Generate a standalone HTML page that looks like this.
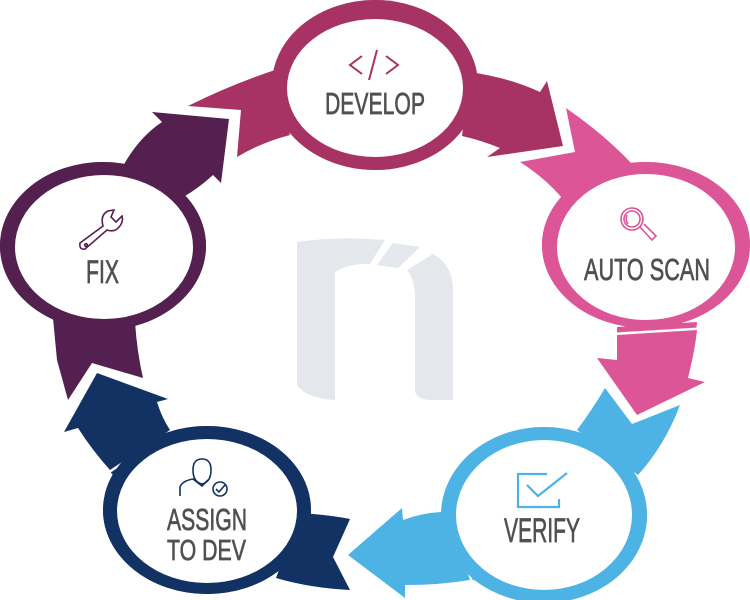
<!DOCTYPE html>
<html><head><meta charset="utf-8"><style>
html,body{margin:0;padding:0;background:#fff;width:750px;height:600px;overflow:hidden}
svg{display:block}
text{font-family:"Liberation Sans",sans-serif;fill:#505050;stroke:#505050;stroke-width:0.7}
.ah{stroke:#fff;stroke-width:5;paint-order:stroke;stroke-linejoin:miter}
</style></head><body>
<svg width="750" height="600" viewBox="0 0 750 600" xmlns="http://www.w3.org/2000/svg">
<!-- logo -->
<g fill="#e4e7ec">
<path d="M297,242 Q340,236 385,240 L370,264 Q350,263 335,272 L335,400 Q305,398 297,385 Z"/>
<path d="M393,243 L420,247 L398,268 L377,265 Z"/>
<path d="M407,270 L433,254 Q453,265 453,290 L453,400 L428,400 Q415,398 415,390 L415,292 Q413,276 407,270 Z"/>
</g>

<!-- tails + ellipses -->
<path fill="#a63363" d="M188,106 Q230,85 275,70 L290,135 Q260,143 237,157 L241,110 Z"/>
<ellipse cx="375" cy="85" rx="103" ry="85" fill="#a63363"/>
<ellipse cx="375" cy="88" rx="88" ry="69" fill="#fff"/>

<path fill="#dc5597" d="M520,162 L575,152 L566,108 Q605,135 633,165 L562,198 Q545,178 520,162 Z"/>
<path fill="#dc5597" d="M617,327 L617,360 L597,358 L637,415 L705,382 L688,378 Q695,350 697,322 Z"/>
<ellipse cx="646" cy="245" rx="104" ry="83" fill="#dc5597"/>
<ellipse cx="646" cy="247" rx="89" ry="73" fill="#fff"/>

<path fill="#4db3e4" d="M577,430 Q592,410 605,388 L632,424 L680,405 Q665,445 638,475 Z"/>
<path fill="#4db3e4" d="M450,512 Q425,512 403,520 L402,508 L348,555 L405,598 L405,585 Q440,585 475,580 Z"/>
<ellipse cx="544" cy="515" rx="103" ry="88" fill="#4db3e4"/>
<ellipse cx="544" cy="515" rx="88" ry="75" fill="#fff"/>

<path fill="#133264" d="M300,513 Q330,515 350,519 L333,557 L350,590 Q310,588 276,578 Z"/>
<path fill="#133264" d="M113,475 Q92,450 78,428 L64,432 L97,373 L168,399 L157,402 Q162,418 172,432 Z"/>
<ellipse cx="207" cy="510" rx="104" ry="84" fill="#133264"/>
<ellipse cx="207" cy="511" rx="90" ry="72" fill="#fff"/>

<path fill="#53204f" d="M53,318 L57,360 L68,400 L92,363 L143,378 Q137,352 135,322 Z"/>
<ellipse cx="103" cy="246" rx="103" ry="84" fill="#53204f"/>
<ellipse cx="104" cy="247" rx="89" ry="72" fill="#fff"/>

<!-- arrowheads on top with white outline -->
<path class="ah" fill="#a63363" d="M470,72 Q510,78 540,92 L547,81 L563,146 L487,157 L500,148 Q480,140 462,136 Z"/>
<path class="ah" fill="#dc5597" d="M617,335 L617,360 L597,358 L637,415 L705,382 L688,378 Q695,350 697,330 Z"/>
<path class="ah" fill="#4db3e4" d="M445,512 Q425,512 403,520 L402,508 L348,555 L405,598 L405,585 Q440,585 470,580 Z"/>
<path class="ah" fill="#133264" d="M110,470 Q92,450 78,428 L64,432 L97,373 L168,399 L157,402 Q162,418 170,430 Z"/>
<path class="ah" fill="#53204f" d="M122,168 Q138,138 162,122 L152,112 L229,119 L221,183 L213,175 Q200,187 185,196 Z"/>
<!-- re-cover ellipse rings where arrowhead bases overlap -->
<ellipse cx="375" cy="85" rx="103" ry="85" fill="#a63363"/>
<ellipse cx="375" cy="88" rx="88" ry="69" fill="#fff"/>
<ellipse cx="646" cy="245" rx="104" ry="83" fill="#dc5597"/>
<ellipse cx="646" cy="247" rx="89" ry="73" fill="#fff"/>
<ellipse cx="544" cy="515" rx="103" ry="88" fill="#4db3e4"/>
<ellipse cx="544" cy="515" rx="88" ry="75" fill="#fff"/>
<ellipse cx="207" cy="510" rx="104" ry="84" fill="#133264"/>
<ellipse cx="207" cy="511" rx="90" ry="72" fill="#fff"/>
<ellipse cx="103" cy="246" rx="103" ry="84" fill="#53204f"/>
<ellipse cx="104" cy="247" rx="89" ry="72" fill="#fff"/>

<!-- icons -->
<g fill="none" stroke="#a63363" stroke-width="2">
<polyline points="362,56 350,65 362,74"/>
<line x1="377" y1="50" x2="369" y2="80"/>
<polyline points="386,56 398,65 386,74"/>
</g>
<g fill="none" stroke="#dc5597" stroke-width="1.6">
<circle cx="632" cy="219" r="11"/>
<circle cx="632" cy="219" r="8"/>
<path d="M627,215 Q625,220 628,224"/>
<path d="M640,227 L652,240 L656,236 L644,224"/>
</g>
<g fill="none" stroke="#4db3e4" stroke-width="2.2">
<polyline points="547,474 518,474 518,507 559,507 559,499"/>
<polyline points="527,485 538,496 567,473"/>
</g>
<g fill="none" stroke="#133264" stroke-width="1.6">
<path d="M193,470 Q193,459 202,459 Q211,459 211,470 Q211,482 202,484 Q193,482 193,470 Z"/>
<path d="M180,496 L180,487 Q182,481 193,479 L202,486 L208,480"/>
<circle cx="220" cy="489" r="7"/>
<polyline points="216,489 219,492 225,485"/>
</g>
<g fill="none" stroke="#53204f" stroke-width="1.6">
<path d="M80,243 L103,226 Q100,215 108,211 L114,210 L111,217 L116,222 L122,216 Q124,223 117,229 Q113,232 107,230 L85,249 Q79,250 80,243 Z"/>
<circle cx="86" cy="245" r="1.3"/>
</g>

<!-- labels -->
<text x="325" y="114" font-size="31" textLength="100" lengthAdjust="spacingAndGlyphs">DEVELOP</text>
<text x="584" y="280" font-size="31" textLength="126" lengthAdjust="spacingAndGlyphs">AUTO SCAN</text>
<text x="504" y="542" font-size="34" textLength="76" lengthAdjust="spacingAndGlyphs">VERIFY</text>
<text x="167" y="530" font-size="31" textLength="80" lengthAdjust="spacingAndGlyphs">ASSIGN</text>
<text x="167" y="560" font-size="29" textLength="79" lengthAdjust="spacingAndGlyphs">TO DEV</text>
<text x="86" y="283" font-size="32" textLength="33" lengthAdjust="spacingAndGlyphs">FIX</text>
</svg>
</body></html>
